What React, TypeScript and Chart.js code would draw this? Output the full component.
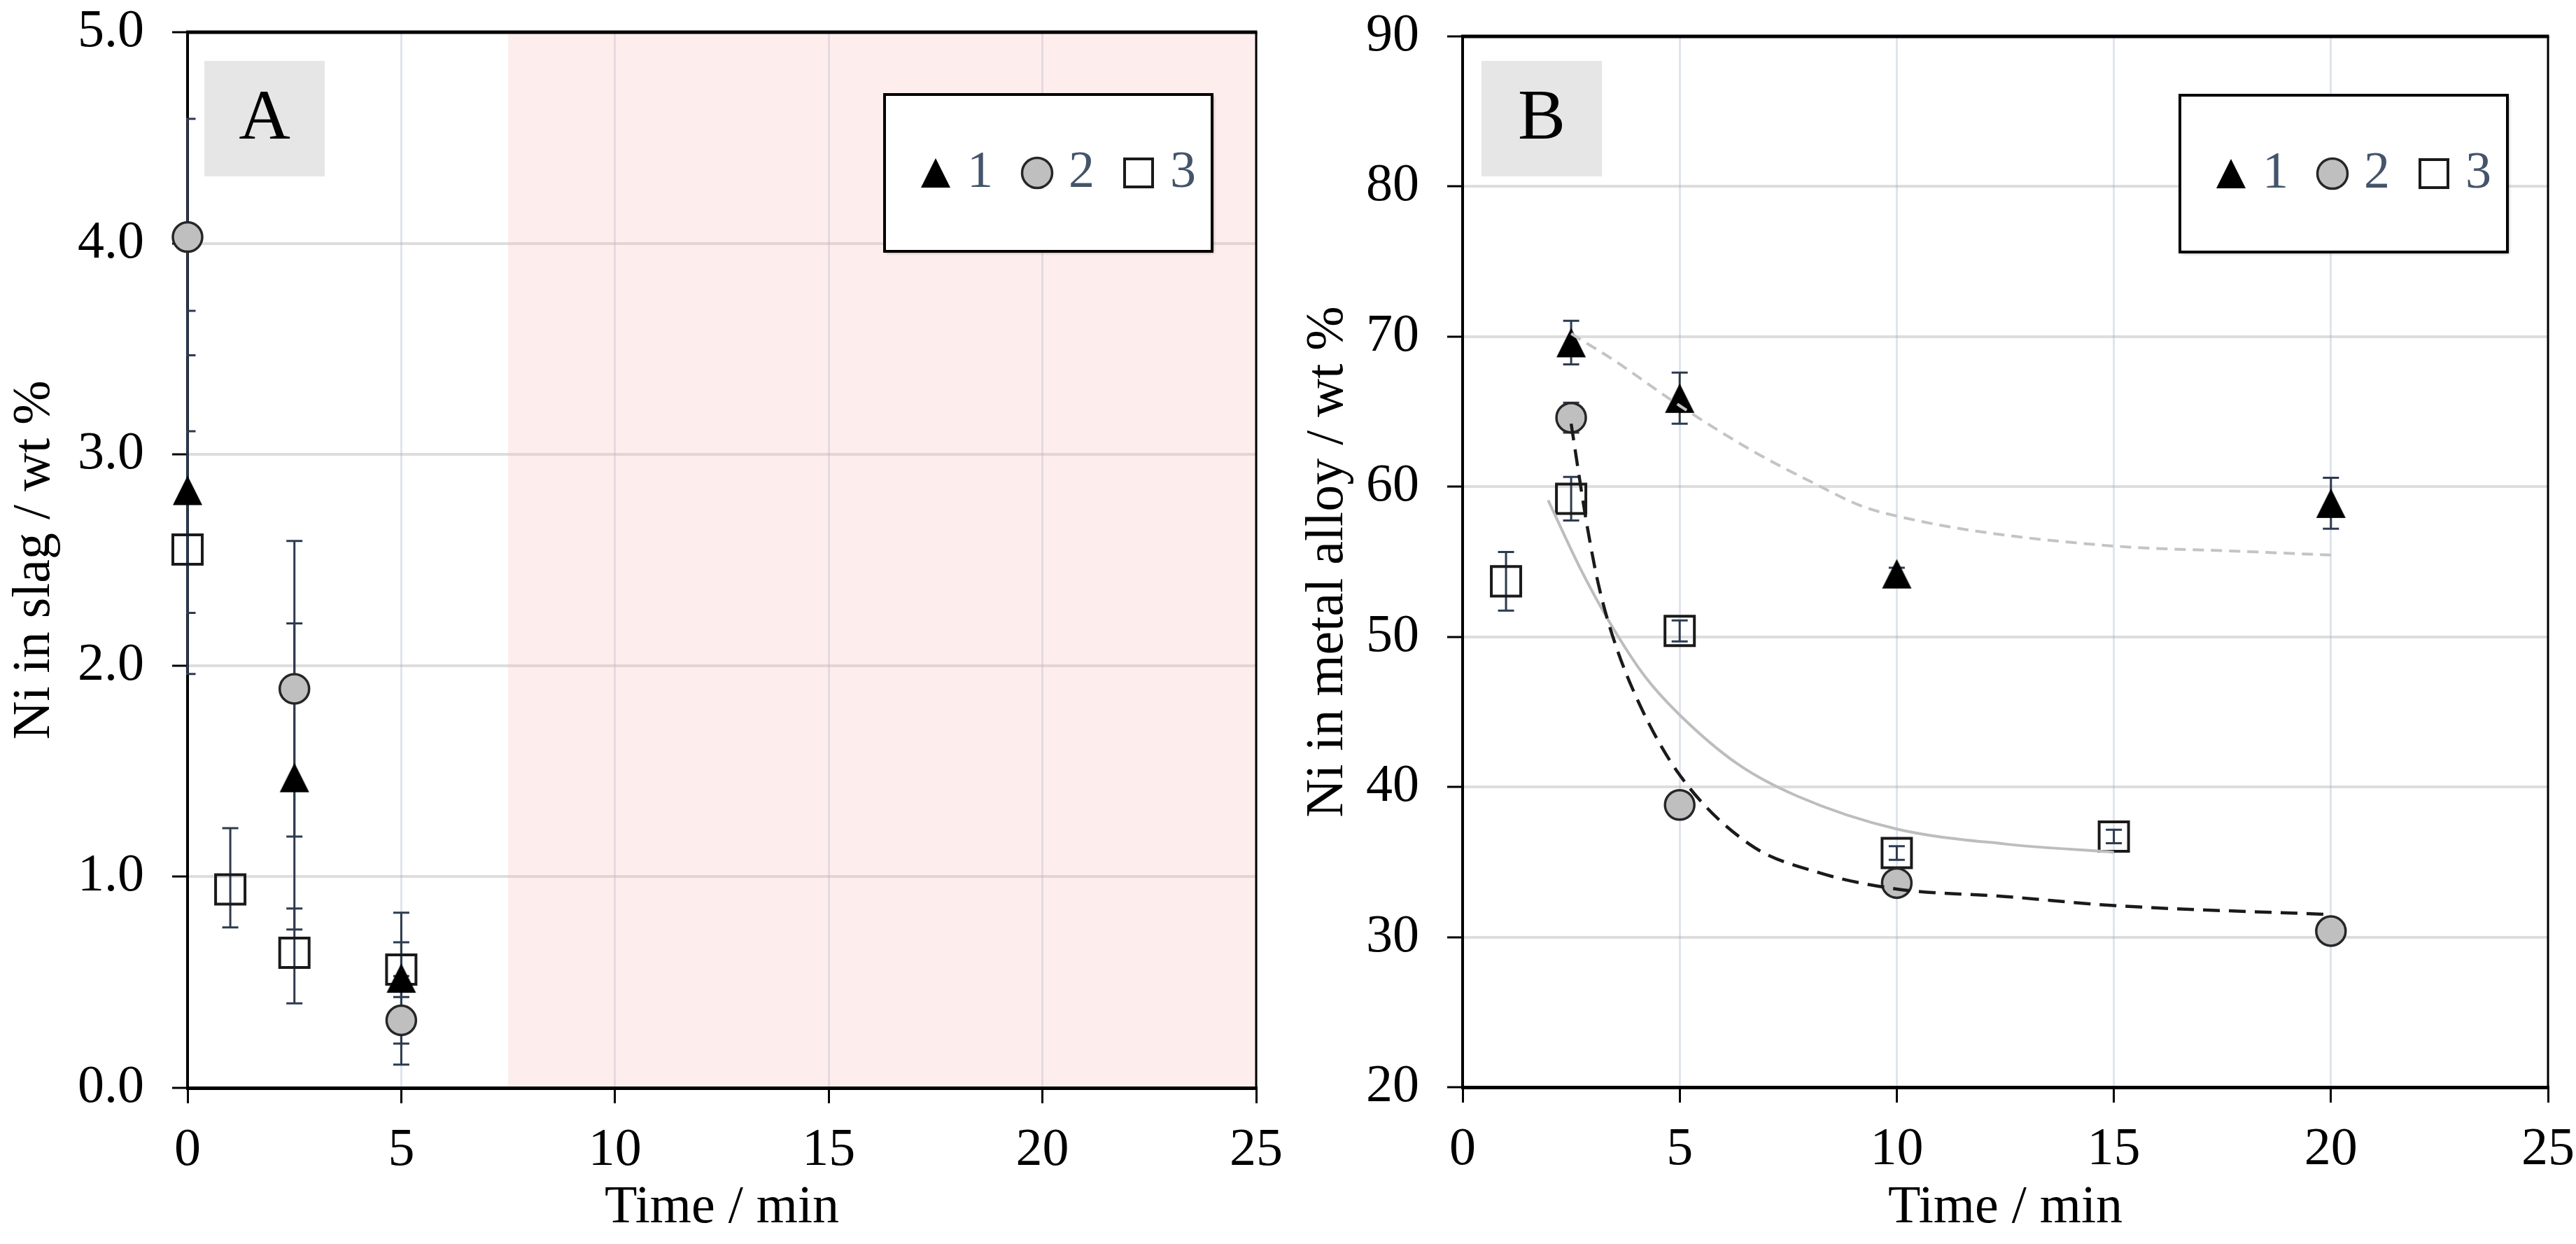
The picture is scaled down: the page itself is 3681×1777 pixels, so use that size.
import React, { useEffect, useRef } from 'react';
import { Chart, registerables } from 'chart.js';

Chart.register(...registerables);

const FONT = "'Liberation Serif', 'Times New Roman', Times, serif";

// ---------- Panel A : Ni in slag ----------
const A_X_TRI = [0, 2.5, 5];
const A_Y_TRI = [2.83, 1.47, 0.52];
const A_EP_TRI = [0.85, 0.73, 0.31];
const A_EM_TRI = [0.87, 0.72, 0.31];

const A_X_CIR = [0, 2.5, 5];
const A_Y_CIR = [4.03, 1.89, 0.32];
const A_EP_CIR = [0.56, 0.7, 0.21];
const A_EM_CIR = [0.56, 0.7, 0.21];

const A_X_SQ = [0, 1, 2.5, 5];
const A_Y_SQ = [2.55, 0.94, 0.64, 0.56];
const A_EP_SQ = [0.56, 0.29, 0.21, 0.13];
const A_EM_SQ = [0.3, 0.18, 0.24, 0.13];

const A_SHADE_START = 7.5;

// ---------- Panel B : Ni in metal alloy ----------
const B_X_TRI = [2.5, 5, 10, 20];
const B_Y_TRI = [69.6, 65.9, 54.2, 58.9];
const B_E_TRI = [1.45, 1.7, 0.4, 1.7];

const B_X_CIR = [2.5, 5, 10, 20];
const B_Y_CIR = [64.6, 38.8, 33.6, 30.4];
const B_E_CIR = [1.0, 0.5, 0.5, 0.5];

const B_X_SQ = [1, 2.5, 5, 10, 15];
const B_Y_SQ = [53.7, 59.2, 50.4, 35.6, 36.7];
const B_E_SQ = [1.95, 1.45, 0.7, 0.45, 0.45];

// trend lines
const T1_X = [2.5, 3.5, 5, 6.73, 7.98, 9.2, 10, 11.7, 15, 17.9, 20];
const T1_Y = [70.2, 68.4, 65.4, 62.3, 60.4, 58.7, 58.05, 57.1, 56.05, 55.7, 55.45];

const T2_X = [2.5, 2.85, 3.12, 3.45, 4.06, 5, 6.6, 8.2, 10, 12.5, 15, 20];
const T2_Y = [64.2, 57.7, 53.6, 50.1, 45.6, 40.8, 36.2, 34.3, 33.2, 32.7, 32.1, 31.5];

const T3_X = [1.97, 2.72, 3.38, 4.19, 5, 6.35, 7.7, 10, 12.5, 15];
const T3_Y = [59.1, 54.5, 51.0, 47.4, 44.8, 41.5, 39.4, 37.2, 36.2, 35.65];

const LEGEND_LABELS = ['1', '2', '3'];

// ---------- styles ----------
const ERR_COLOR = '#2d3b50';

let triImg: HTMLCanvasElement | null = null;
function triangleImage() {
  if (triImg) return triImg;
  const c = document.createElement('canvas');
  c.width = 46;
  c.height = 46;
  const g = c.getContext('2d') as CanvasRenderingContext2D;
  g.beginPath();
  g.moveTo(23, 2);
  g.lineTo(44, 44);
  g.lineTo(2, 44);
  g.closePath();
  g.fillStyle = '#000';
  g.fill();
  triImg = c;
  return c;
}

const triStyle = () => ({ pointStyle: triangleImage(), pointRadius: 23, backgroundColor: '#000', borderColor: '#000', borderWidth: 0 });
const CIR_STYLE = { pointStyle: 'circle', pointRadius: 21, backgroundColor: '#bfbfbf', borderColor: '#262626', borderWidth: 3.5 };
const SQ_STYLE = { pointStyle: 'rect', pointRadius: 29.7, backgroundColor: 'rgba(0,0,0,0)', borderColor: '#1a1a1a', borderWidth: 4 };

const pts = (xs: number[], ys: number[]) => xs.map((x, i) => ({ x, y: ys[i] }));

const errorBarPlugin = {
  id: 'errorBars',
  beforeDatasetsDraw(chart: any) {
    const { ctx, chartArea, scales } = chart;
    ctx.save();
    ctx.beginPath();
    ctx.rect(chartArea.left - 2, chartArea.top, chartArea.width + 2, chartArea.height);
    ctx.clip();
    ctx.strokeStyle = ERR_COLOR;
    ctx.lineWidth = 3;
    chart.data.datasets.forEach((ds: any) => {
      if (!ds.errPlus) return;
      ds.data.forEach((p: any, i: number) => {
        const x = scales.x.getPixelForValue(p.x);
        const yT = scales.y.getPixelForValue(p.y + ds.errPlus[i]);
        const yB = scales.y.getPixelForValue(p.y - ds.errMinus[i]);
        const c = 11.5;
        ctx.beginPath();
        ctx.moveTo(x, yT);
        ctx.lineTo(x, yB);
        ctx.moveTo(x - c, yT);
        ctx.lineTo(x + c, yT);
        ctx.moveTo(x - c, yB);
        ctx.lineTo(x + c, yB);
        ctx.stroke();
      });
    });
    ctx.restore();
  },
};

function drawMarker(ctx: CanvasRenderingContext2D, kind: string, x: number, y: number) {
  ctx.save();
  if (kind === 'triangle') {
    const img = triangleImage();
    ctx.drawImage(img, x - img.width / 2, y - img.height / 2);
  } else if (kind === 'circle') {
    ctx.beginPath();
    ctx.arc(x, y, 21.5, 0, Math.PI * 2);
    ctx.fillStyle = '#bfbfbf';
    ctx.fill();
    ctx.lineWidth = 3.5;
    ctx.strokeStyle = '#262626';
    ctx.stroke();
  } else {
    ctx.lineWidth = 4;
    ctx.strokeStyle = '#1a1a1a';
    ctx.strokeRect(x - 20, y - 20, 40, 40);
  }
  ctx.restore();
}

function makeDecor(opts: any) {
  return {
    id: 'decor',
    beforeDatasetsDraw(chart: any) {
      if (opts.shadeStart == null) return;
      const { ctx, chartArea, scales } = chart;
      const x0 = scales.x.getPixelForValue(opts.shadeStart);
      ctx.save();
      ctx.fillStyle = 'rgba(248,190,190,0.27)';
      ctx.fillRect(x0, chartArea.top + 2.5, chartArea.right - 1.5 - x0, chartArea.height - 5);
      ctx.restore();
    },
    afterDraw(chart: any) {
      const { ctx, chartArea } = chart;
      ctx.save();
      // frame
      ctx.strokeStyle = '#000';
      ctx.lineWidth = 5;
      ctx.beginPath();
      ctx.moveTo(chartArea.left - 2, chartArea.top);
      ctx.lineTo(chartArea.right + 1.5, chartArea.top);
      ctx.stroke();
      ctx.lineWidth = 3;
      ctx.beginPath();
      ctx.moveTo(chartArea.right, chartArea.top);
      ctx.lineTo(chartArea.right, chartArea.bottom);
      ctx.stroke();

      // panel letter box
      const bx = chartArea.left + opts.boxDx;
      const by = chartArea.top + opts.boxDy;
      ctx.fillStyle = '#e6e6e6';
      ctx.fillRect(bx, by, 172, 165);
      ctx.fillStyle = '#000';
      ctx.font = `102px ${FONT}`;
      ctx.textAlign = 'center';
      ctx.textBaseline = 'middle';
      ctx.fillText(opts.letter, bx + 86, by + 84);

      // legend
      const lw = 468;
      const lh = 224;
      const lx = chartArea.right - opts.legDx - lw;
      const ly = chartArea.top + opts.legDy;
      ctx.save();
      ctx.shadowColor = 'rgba(0,0,0,0.35)';
      ctx.shadowBlur = 4;
      ctx.shadowOffsetX = 2;
      ctx.shadowOffsetY = 2;
      ctx.fillStyle = '#fff';
      ctx.fillRect(lx, ly, lw, lh);
      ctx.restore();
      ctx.lineWidth = 4;
      ctx.strokeStyle = '#000';
      ctx.strokeRect(lx, ly, lw, lh);

      const kinds = ['triangle', 'circle', 'rect'];
      ctx.font = `74px ${FONT}`;
      ctx.textAlign = 'left';
      ctx.textBaseline = 'middle';
      let cx = lx + 52;
      const cy = ly + lh / 2;
      LEGEND_LABELS.forEach((lab, i) => {
        drawMarker(ctx, kinds[i], cx + 21, cy);
        const tx = cx + 42 + 24;
        ctx.fillStyle = '#44546a';
        ctx.fillText(lab, tx, cy + 1);
        cx = tx + ctx.measureText(lab).width + 42;
      });
      ctx.restore();
    },
  };
}

function scatterSet(label: string, style: any, xs: number[], ys: number[], ep: number[], em: number[]) {
  return {
    type: 'scatter',
    label,
    data: pts(xs, ys),
    ...style,
    errPlus: ep,
    errMinus: em,
    order: 2,
    clip: false,
    showLine: false,
  };
}

function trendSet(xs: number[], ys: number[], color: string, width: number, dash: number[]) {
  return {
    type: 'line',
    data: pts(xs, ys),
    borderColor: color,
    borderWidth: width,
    borderDash: dash,
    pointRadius: 0,
    fill: false,
    cubicInterpolationMode: 'monotone',
    order: 0,
    clip: false,
  };
}

function buildConfig(p: any) {
  const tickFont = { family: FONT, size: 76 };
  return {
    type: 'scatter',
    data: { datasets: p.datasets() },
    options: {
      animation: false,
      responsive: false,
      devicePixelRatio: 1,
      events: [],
      layout: { padding: { left: 0, right: p.padRight, top: p.padTop, bottom: 0 } },
      plugins: { legend: { display: false }, tooltip: { enabled: false } },
      scales: {
        x: {
          type: 'linear',
          min: 0,
          max: 25,
          ticks: { stepSize: 5, font: tickFont, color: '#000', padding: 22, maxRotation: 0 },
          grid: {
            color: 'rgba(165,180,205,0.36)',
            lineWidth: 3,
            tickColor: '#000',
            tickWidth: 3,
            tickLength: 22,
          },
          border: { color: '#000', width: 5 },
          title: { display: true, text: 'Time / min', font: tickFont, color: '#000', padding: { top: 0, bottom: 5 } },
          afterFit: (s: any) => {
            s.height = p.xAxisH;
            s.paddingLeft = 0;
            s.paddingRight = 0;
          },
        },
        y: {
          type: 'linear',
          min: p.yMin,
          max: p.yMax,
          ticks: {
            stepSize: p.yStep,
            font: tickFont,
            color: '#000',
            padding: 40,
            callback: (v: any) => (p.yDec ? Number(v).toFixed(1) : String(v)),
          },
          grid: {
            color: 'rgba(160,160,160,0.36)',
            lineWidth: 4,
            tickColor: '#000',
            tickWidth: 3,
            tickLength: 22,
          },
          border: { color: '#000', width: 4 },
          title: { display: true, text: p.yTitle, font: tickFont, color: '#000', padding: { top: p.yTitlePad, bottom: 0 } },
          afterFit: (s: any) => {
            s.width = p.yAxisW;
            s.paddingTop = 0;
            s.paddingBottom = 0;
          },
        },
      },
    },
    plugins: [makeDecor(p.decor), errorBarPlugin],
  };
}

const panelA = {
  datasets: () => [
    scatterSet('1', triStyle(), A_X_TRI, A_Y_TRI, A_EP_TRI, A_EM_TRI),
    scatterSet('2', CIR_STYLE, A_X_CIR, A_Y_CIR, A_EP_CIR, A_EM_CIR),
    scatterSet('3', SQ_STYLE, A_X_SQ, A_Y_SQ, A_EP_SQ, A_EM_SQ),
  ],
  yMin: 0,
  yMax: 5,
  yStep: 1,
  yDec: true,
  yTitle: 'Ni in slag / wt %',
  yTitlePad: 4,
  padRight: 45,
  padTop: 46,
  xAxisH: 223,
  yAxisW: 268,
  decor: { letter: 'A', boxDx: 24, boxDy: 41, legDx: 63, legDy: 89, shadeStart: A_SHADE_START },
};

const panelB = {
  datasets: () => [
    scatterSet('1', triStyle(), B_X_TRI, B_Y_TRI, B_E_TRI, B_E_TRI),
    scatterSet('2', CIR_STYLE, B_X_CIR, B_Y_CIR, B_E_CIR, B_E_CIR),
    scatterSet('3', SQ_STYLE, B_X_SQ, B_Y_SQ, B_E_SQ, B_E_SQ),
    trendSet(T1_X, T1_Y, '#c4c4c4', 4, [16, 10]),
    trendSet(T2_X, T2_Y, '#1a1a1a', 4.5, [24, 13]),
    trendSet(T3_X, T3_Y, '#bdbdbd', 4, []),
  ],
  yMin: 20,
  yMax: 90,
  yStep: 10,
  yDec: false,
  yTitle: 'Ni in metal alloy / wt %',
  yTitlePad: 12,
  padRight: 40,
  padTop: 52,
  xAxisH: 224,
  yAxisW: 250,
  decor: { letter: 'B', boxDx: 27, boxDy: 35, legDx: 58, legDy: 84, shadeStart: null },
};

function Panel({ cfg, left, width }: { cfg: any; left: number; width: number }) {
  const ref = useRef<HTMLCanvasElement>(null);
  useEffect(() => {
    const chart = new Chart(ref.current as HTMLCanvasElement, buildConfig(cfg) as any);
    return () => chart.destroy();
  }, []);
  return (
    <canvas
      ref={ref}
      width={width}
      height={1777}
      style={{ position: 'absolute', left, top: 0, width, height: 1777, display: 'block' }}
    />
  );
}

export default function App() {
  useEffect(() => {
    document.body.style.margin = '0';
    document.body.style.background = '#fff';
  }, []);
  return (
    <div style={{ position: 'relative', width: 3681, height: 1777, background: '#fff', overflow: 'hidden' }}>
      <Panel cfg={panelA} left={0} width={1840} />
      <Panel cfg={panelB} left={1840} width={1841} />
    </div>
  );
}
